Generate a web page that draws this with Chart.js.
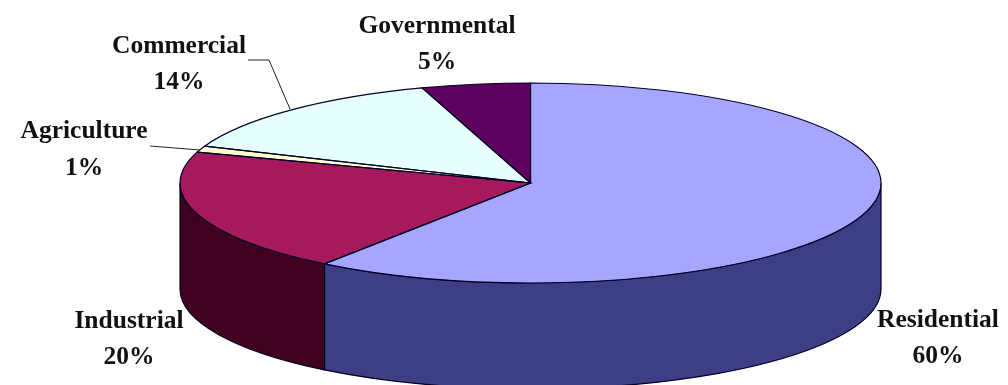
<!DOCTYPE html>
<html>
<head>
<meta charset="utf-8">
<style>
    html, body { margin: 0; padding: 0; background: #fff; }
    canvas { display: block; }
</style>
<script src="https://cdn.jsdelivr.net/npm/chart.js@4"></script>
</head>
<body>
<canvas id="sharesChart" width="1008" height="385"></canvas>
<script>
const categories = ["Residential", "Industrial", "Agriculture", "Commercial", "Governmental"];
const shares = [60, 20, 1, 14, 5];
const topColors = ["#A6A6FF", "#A6195C", "#FFFFD0", "#E6FFFF", "#5E005E"];
const wallColors = ["#3E3E85", "#40001E", "#80805F", "#738080", "#2F002F"];

const TILT = 100 / 350.5;   // flattening of the pie into an ellipse
const DEPTH = 106;          // height of the side wall

// where each label sits: centre x, baseline of first line, baseline of second
const labelSpots = {
    Residential: [938, 327, 363],
    Industrial: [129, 328, 364],
    Agriculture: [84, 138, 175],
    Commercial: [179, 53, 89],
    Governmental: [437, 33, 69]
};
const leaders = {
    Commercial: [[248, 60], [269, 60], [290, 109]],
    Agriculture: [[150, 146], [200, 150]]
};

function outlineSlice(ctx, arc) {
    ctx.beginPath();
    ctx.moveTo(arc.x, arc.y);
    ctx.ellipse(arc.x, arc.y, arc.outerRadius, arc.outerRadius * TILT, 0, arc.startAngle, arc.endAngle);
    ctx.closePath();
}

const pie3d = {
    id: "pie3d",
    beforeDatasetsDraw(chart) {
        const ctx = chart.ctx;
        const arcs = chart.getDatasetMeta(0).data;

        // side walls, only the part of each slice facing the viewer
        arcs.forEach(function (arc, i) {
            const from = Math.max(arc.startAngle, 0);
            const to = Math.min(arc.endAngle, Math.PI);
            if (to <= from) return;
            const rx = arc.outerRadius;
            const ry = rx * TILT;
            ctx.beginPath();
            ctx.ellipse(arc.x, arc.y, rx, ry, 0, from, to);
            ctx.ellipse(arc.x, arc.y + DEPTH, rx, ry, 0, to, from, true);
            ctx.closePath();
            ctx.fillStyle = wallColors[i];
            ctx.fill();
            ctx.strokeStyle = "#000028";
            ctx.lineWidth = 1.2;
            ctx.stroke();
        });

        // squash the library's own arcs
        const cy = arcs[0].y;
        ctx.save();
        ctx.translate(0, cy);
        ctx.scale(1, TILT);
        ctx.translate(0, -cy);
    },
    afterDatasetsDraw(chart) {
        const ctx = chart.ctx;
        ctx.restore();

        const arcs = chart.getDatasetMeta(0).data;
        ctx.strokeStyle = "#000028";
        ctx.lineWidth = 1.2;
        arcs.forEach(function (arc) {
            outlineSlice(ctx, arc);
            ctx.stroke();
        });

        ctx.strokeStyle = "#222";
        ctx.lineWidth = 1;
        Object.values(leaders).forEach(function (pts) {
            ctx.beginPath();
            pts.forEach(function (p, i) {
                if (i === 0) ctx.moveTo(p[0], p[1]);
                else ctx.lineTo(p[0], p[1]);
            });
            ctx.stroke();
        });

        ctx.font = 'bold 25.5px "Liberation Serif"';
        ctx.fillStyle = "#111";
        ctx.textAlign = "center";
        ctx.textBaseline = "alphabetic";
        categories.forEach(function (name, i) {
            const spot = labelSpots[name];
            ctx.fillText(name, spot[0], spot[1]);
            ctx.fillText(shares[i] + "%", spot[0], spot[2]);
        });
    }
};

new Chart(document.getElementById("sharesChart"), {
    type: "pie",
    data: {
        labels: categories,
        datasets: [{
            data: shares,
            backgroundColor: topColors,
            borderWidth: 0,
            radius: 350.5,
            clip: false
        }]
    },
    options: {
        responsive: false,
        animation: false,
        events: [],
        layout: { padding: { left: 53, right: 0, top: 0, bottom: 19 } },
        plugins: {
            legend: { display: false },
            tooltip: { enabled: false }
        }
    },
    plugins: [pie3d]
});
</script>
</body>
</html>
